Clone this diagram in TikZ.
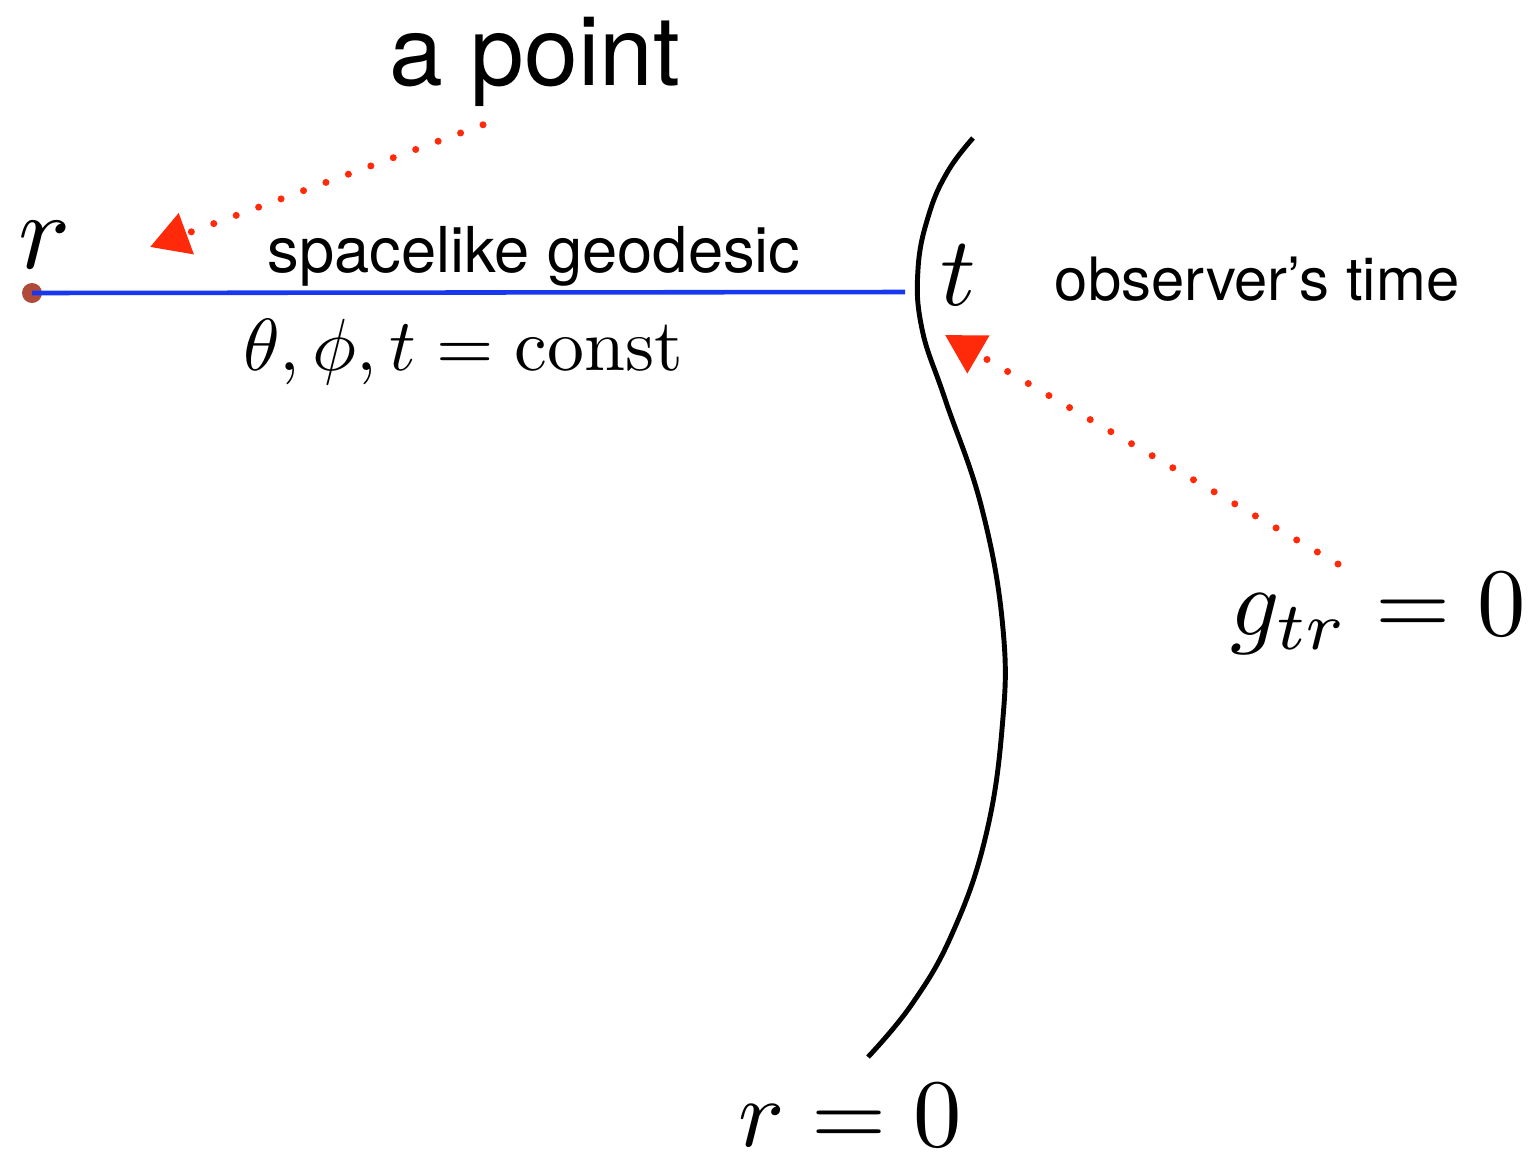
\documentclass[tikz,border=0pt]{standalone}
\usepackage{fontspec}
\newfontfamily\helv{TeX Gyre Heros}
\usetikzlibrary{arrows.meta, positioning}
\definecolor{geoblue}{HTML}{1838F0}
\definecolor{arrowred}{HTML}{FF2A0A}
\definecolor{dotbrown}{HTML}{B04A3A}
\newcommand{\bigmath}[2]{\scalebox{#1}{$#2$}}

\begin{document}
\begin{tikzpicture}[
        label/.style={inner sep=0pt, anchor=base},
        sanslabel/.style={label, font=\helv\fontsize{18}{20}\selectfont},
        pointer/.style={arrowred, line width=2pt, line cap=round,
                        dash pattern=on 0pt off 6.8pt,
                        -{Triangle[length=11pt, width=12pt]}},
        geodesic/.style={geoblue, line width=1.3pt},
        worldline/.style={black, line width=1.4pt}
    ]
        \useasboundingbox (0,0) rectangle (15.34,11.59);

        % labels
        \node[label, font=\helv\fontsize{27.5}{30}\selectfont] (apoint) at (5.35,10.74) {a point};
        \node[sanslabel] (geolabel) at (5.34,8.87) {spacelike geodesic};
        \node[sanslabel, font=\helv\fontsize{17}{20}\selectfont] (obslabel) at (12.57,8.59) {observer’s time};
        \node[label] (rlabel) at (0.45,8.91) {\bigmath{3.1}{r}};
        \node[label] (tlabel) at (9.58,8.54) {\bigmath{2.8}{t}};
        \node[label] (constlabel) at (4.63,7.89) {\bigmath{2.1}{\theta,\phi,t=\mathrm{const}}};
        \node[label] (gtr) at (13.78,5.24) {\bigmath{2.75}{g_{tr}=0}};
        \node[label] (rzero) at (8.50,0.13) {\bigmath{2.75}{r=0}};

        % the geodesic
        \node[circle, fill=dotbrown, minimum size=0.2cm, inner sep=0pt] (origin) at (0.32,8.66) {};
        \coordinate (geoend) at (9.05,8.67);
        \draw[geodesic] (origin.center) -- (geoend);

        % the observer's worldline
        \draw[worldline] plot[smooth, tension=0.7] coordinates {
            (9.73,10.21) (9.48,9.88) (9.29,9.45) (9.18,8.90) (9.22,8.30) (9.45,7.60)
            (9.82,6.50) (10.03,5.30) (10.02,4.30) (9.85,3.20) (9.52,2.25) (9.12,1.55) (8.68,1.02)};

        % pointers
        \coordinate (pointtip) at (1.50,9.12);
        \coordinate (timetip) at (9.45,8.24);
        \draw[pointer] ([xshift=-0.52cm, yshift=-0.18cm]apoint.south) -- (pointtip);
        \draw[pointer] ([xshift=-0.40cm, yshift=0.08cm]gtr.north) -- (timetip);
    \end{tikzpicture}
\end{document}
